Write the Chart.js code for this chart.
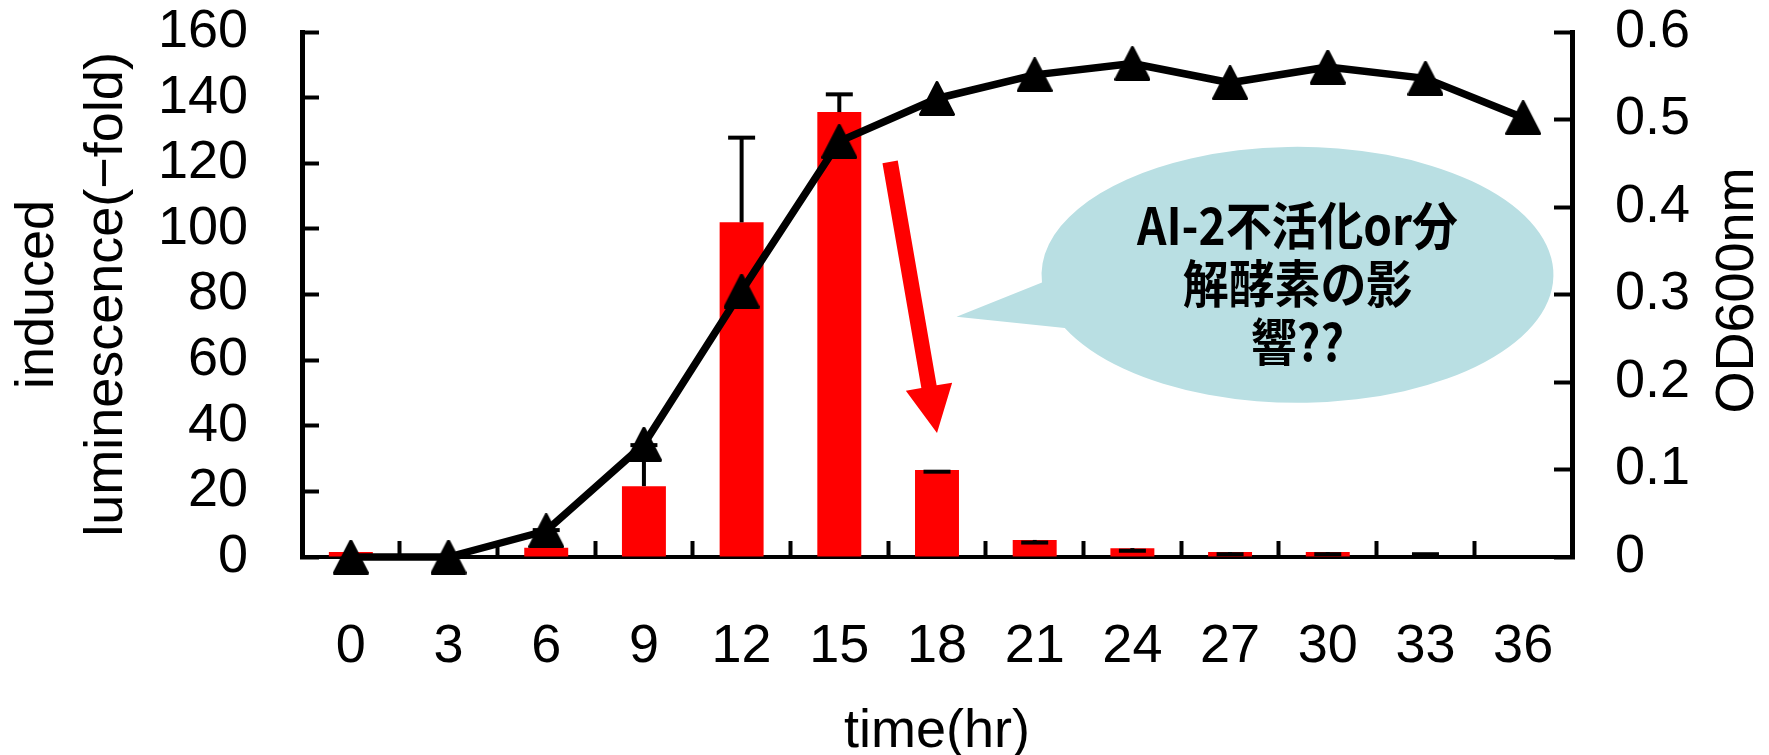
<!DOCTYPE html>
<html>
<head>
<meta charset="utf-8">
<script src="https://cdn.jsdelivr.net/npm/chart.js@4/dist/chart.umd.min.js"></script>
<style>
  html, body { margin: 0; padding: 0; background: #fff; }
  canvas { display: block; }
</style>
</head>
<body>
<canvas id="c" width="1769" height="755"></canvas>
<script>
// Sampling times (hr)
const hours = ['0', '3', '6', '9', '12', '15', '18', '21', '24', '27', '30', '33', '36'];
// Induced luminescence (-fold), bars
const luminescence = [1.5, 0, 2.8, 21.6, 102, 135.6, 26.5, 5.2, 2.7, 1.5, 1.5, 0, null];
// Error bar offsets for the luminescence bars (cap drawn at value + offset)
const luminescenceErr = [null, null, 5.4, 12.5, 25.8, 5.4, -0.5, -0.8, -0.8, -0.65, -0.65, 0.85, null];
// Cell growth, OD600
const od600 = [0, 0, 0.030, 0.129, 0.304, 0.475, 0.524, 0.551, 0.564, 0.542, 0.560, 0.547, 0.502];
// Axis ranges
const lumTicks = { min: 0, max: 160, step: 20 };
const odTicks = { min: 0, max: 0.6, step: 0.1 };
// Callout text
const calloutLines = ['AI-2不活化or分', '解酵素の影', '響??'];

const FONT = "'Liberation Sans', Arial, Helvetica, sans-serif";
Chart.defaults.font.family = FONT;
Chart.defaults.font.size = 54;
Chart.defaults.color = '#000';

// Filled triangle marker, centred on the data point
function triangleMarker(w, h) {
  const c = document.createElement('canvas');
  c.width = w; c.height = h;
  const g = c.getContext('2d');
  g.fillStyle = '#000';
  g.strokeStyle = '#000';
  g.lineJoin = 'round';
  g.lineWidth = 3;
  g.beginPath();
  g.moveTo(w / 2, 1.5);
  g.lineTo(w - 1.5, h - 1.5);
  g.lineTo(1.5, h - 1.5);
  g.closePath();
  g.fill();
  g.stroke();
  return c;
}

// Keep the axis boxes at fixed sizes and stop tick-label padding from pushing the plot area
function fixBox(size) {
  return s => {
    if (s.isHorizontal()) s.height = size; else s.width = size;
    s.paddingTop = 0; s.paddingBottom = 0; s.paddingLeft = 0; s.paddingRight = 0;
  };
}

// Upper error bars drawn right after the bars, beneath the OD line
const errorBars = {
  id: 'errorBars',
  afterDatasetDraw(chart, args) {
    if (args.meta.type !== 'bar') return;
    const ctx = chart.ctx;
    const y = chart.scales.yL;
    args.meta.data.forEach((bar, i) => {
      const e = luminescenceErr[i];
      const v = luminescence[i] == null ? 0 : luminescence[i];
      if (e == null) return;
      const y0 = y.getPixelForValue(v);
      const y1 = y.getPixelForValue(v + e);
      ctx.save();
      ctx.strokeStyle = '#000';
      ctx.lineWidth = 4;
      ctx.beginPath();
      ctx.moveTo(bar.x, y0);
      ctx.lineTo(bar.x, y1);
      ctx.stroke();
      ctx.beginPath();
      ctx.moveTo(bar.x - 13.5, y1);
      ctx.lineTo(bar.x + 13.5, y1);
      ctx.stroke();
      ctx.restore();
    });
  }
};

// Arrow and speech-bubble note, placed in data space (category index, luminescence value)
const notes = {
  id: 'notes',
  afterDraw(chart) {
    const ctx = chart.ctx;
    const x = chart.scales.x, y = chart.scales.yL;
    const px = v => x.getPixelForValue(v);
    const py = v => y.getPixelForValue(v);

    // red arrow pointing at the 18 hr bar
    const x0 = px(5.52), y0 = py(120.4), x1 = px(6.0), y1 = py(37.8);
    const shaft = 15.5, headW = 47, headL = 47;
    const dx = x1 - x0, dy = y1 - y0, L = Math.hypot(dx, dy);
    const ux = dx / L, uy = dy / L, nx = -uy, ny = ux;
    const bx = x1 - ux * headL, by = y1 - uy * headL;
    ctx.save();
    ctx.fillStyle = '#ff0000';
    ctx.beginPath();
    ctx.moveTo(x0 + nx * shaft / 2, y0 + ny * shaft / 2);
    ctx.lineTo(bx + nx * shaft / 2, by + ny * shaft / 2);
    ctx.lineTo(bx + nx * headW / 2, by + ny * headW / 2);
    ctx.lineTo(x1, y1);
    ctx.lineTo(bx - nx * headW / 2, by - ny * headW / 2);
    ctx.lineTo(bx - nx * shaft / 2, by - ny * shaft / 2);
    ctx.lineTo(x0 - nx * shaft / 2, y0 - ny * shaft / 2);
    ctx.closePath();
    ctx.fill();

    // speech bubble
    const cx = px(9.69), cy = py(86);
    const rx = px(9.69 + 2.62) - cx, ry = cy - py(86 + 39);
    const tx = px(6.2), ty = py(73.2);
    const a1 = 176.6 * Math.PI / 180, a2 = 155.4 * Math.PI / 180;
    ctx.fillStyle = '#b9dfe3';
    ctx.beginPath();
    ctx.moveTo(cx + rx * Math.cos(a1), cy + ry * Math.sin(a1));
    ctx.lineTo(tx, ty);
    ctx.lineTo(cx + rx * Math.cos(a2), cy + ry * Math.sin(a2));
    ctx.ellipse(cx, cy, rx, ry, 0, a2, a1 - 2 * Math.PI, true);
    ctx.closePath();
    ctx.fill();

    // condensed gothic lettering inside the bubble
    ctx.fillStyle = '#000';
    ctx.font = "bold 51px 'Noto Sans CJK JP', sans-serif";
    ctx.textAlign = 'center';
    ctx.textBaseline = 'middle';
    calloutLines.forEach((t, i) => {
      ctx.save();
      ctx.translate(cx, cy + 9 + (i - 1) * 58);
      ctx.scale(0.9, 1);
      ctx.fillText(t, 0, 0);
      ctx.restore();
    });

    // right-hand axis title, reading bottom to top
    ctx.font = '54px ' + FONT;
    ctx.translate(chart.width - 31, (chart.chartArea.top + chart.chartArea.bottom) / 2 - 4);
    ctx.rotate(-Math.PI / 2);
    ctx.fillText('OD600nm', 0, 0);
    ctx.restore();
  }
};

new Chart(document.getElementById('c'), {
  type: 'bar',
  data: {
    labels: hours,
    datasets: [
      {
        type: 'line',
        label: 'OD600nm',
        data: od600,
        yAxisID: 'yR',
        borderColor: '#000',
        borderWidth: 7.5,
        borderJoinStyle: 'round',
        tension: 0,
        pointStyle: triangleMarker(36, 35),
        pointRadius: 18,
        clip: false,
        order: 0
      },
      {
        type: 'bar',
        label: 'induced luminescence',
        data: luminescence,
        yAxisID: 'yL',
        backgroundColor: '#ff0000',
        borderWidth: 0,
        barPercentage: 0.45,
        categoryPercentage: 1.0,
        order: 1
      }
    ]
  },
  options: {
    responsive: false,
    devicePixelRatio: 1,
    animation: false,
    layout: { padding: { top: 32, left: 0, right: 0, bottom: 0 } },
    plugins: { legend: { display: false }, tooltip: { enabled: false } },
    scales: {
      x: {
        grid: { offset: true, drawOnChartArea: false, tickLength: -16, tickWidth: 4, tickColor: '#000' },
        border: { color: '#000', width: 4 },
        ticks: { autoSkip: false, maxRotation: 0, padding: 74, font: { size: 54 } },
        title: { display: true, text: 'time(hr)', font: { size: 54, lineHeight: 0.85 }, padding: { top: 0, bottom: 0 } },
        afterFit: fixBox(198)
      },
      yL: {
        position: 'left',
        min: lumTicks.min, max: lumTicks.max,
        grid: { drawOnChartArea: false, tickLength: -17, tickWidth: 4, tickColor: '#000' },
        border: { color: '#000', width: 5 },
        ticks: { stepSize: lumTicks.step, padding: 71, font: { size: 54, lineHeight: 1 } },
        title: {
          display: true,
          text: ['induced', 'luminescence(\u2212fold)'],
          font: { size: 54, lineHeight: 69 / 54 },
          padding: { top: 4, bottom: 0 }
        },
        afterFit: fixBox(302)
      },
      yR: {
        position: 'right',
        min: odTicks.min, max: odTicks.max,
        grid: { drawOnChartArea: false, tickLength: -18, tickWidth: 4, tickColor: '#000' },
        border: { color: '#000', width: 5 },
        ticks: { stepSize: odTicks.step, padding: 61, font: { size: 54, lineHeight: 1 } },
        afterFit: fixBox(197)
      }
    }
  },
  plugins: [errorBars, notes]
});
</script>
</body>
</html>
